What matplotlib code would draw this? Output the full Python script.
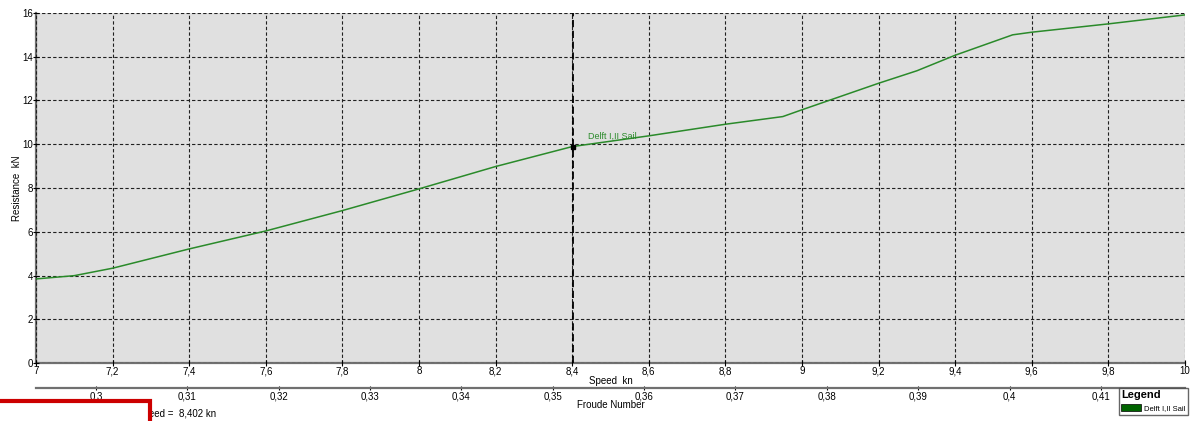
import numpy as np
import matplotlib.pyplot as plt
from matplotlib.patches import Patch, Rectangle
from matplotlib.ticker import FuncFormatter, MultipleLocator, FixedLocator

plt.rcParams['font.family'] = ['Liberation Sans', 'DejaVu Sans']

# data
speed_kn = [7.0, 7.1, 7.2, 7.4, 7.6, 7.8, 8.0, 8.2, 8.4, 8.6, 8.8, 8.95,
            9.0, 9.2, 9.3, 9.4, 9.55, 9.6, 9.8, 10.0]
resistance_kN = [3.85, 4.0, 4.34, 5.22, 6.04, 6.97, 7.96, 8.98, 9.89, 10.38,
                 10.91, 11.26, 11.57, 12.78, 13.35, 14.06, 14.99, 15.11,
                 15.49, 15.90]
series_name = "Delft I,II Sail"
sel_speed = 8.402
sel_resist = 9.87
froude_per_kn = 0.04192
froude_ticks = [0.30, 0.31, 0.32, 0.33, 0.34, 0.35, 0.36, 0.37, 0.38, 0.39, 0.40, 0.41]

def comma(v, pos=None):
    return ('%g' % round(v, 4)).replace('.', ',')

fig = plt.figure(figsize=(11.97, 4.21), dpi=100)
ax = fig.add_axes([36/1197, 1-363.3/421, (1185-36)/1197, (363.3-12.7)/421])
ax.set_facecolor('#e0e0e0')

green = '#2a8a2a'
ax.plot(speed_kn, resistance_kN, color=green, lw=1.1, zorder=3)
ax.axvline(sel_speed, color='black', lw=1.3, ls=(0, (4, 2)), zorder=4)
ax.plot([sel_speed], [sel_resist], 's', color='black', ms=3.5, zorder=5)
ax.annotate(series_name, (sel_speed, sel_resist), xytext=(11, 6),
            textcoords='offset points', fontsize=6.5, color=green)

ax.set_xlim(7, 10)
ax.set_ylim(0, 16)
ax.xaxis.set_major_locator(MultipleLocator(0.2))
ax.yaxis.set_major_locator(MultipleLocator(2))
ax.xaxis.set_major_formatter(FuncFormatter(comma))
ax.yaxis.set_major_formatter(FuncFormatter(comma))
ax.grid(True, color='#202020', lw=0.8, ls=(0, (3, 2)))
ax.set_axisbelow(False)
ax.tick_params(labelsize=7, length=4, width=0.8, direction='inout', pad=0)

for s in ['top', 'right']:
    ax.spines[s].set_visible(False)
for s in ['left', 'bottom']:
    ax.spines[s].set_color('#707070')
    ax.spines[s].set_linewidth(1.6)

ax.set_xlabel("Speed  kn", fontsize=7, labelpad=0)
ax.set_ylabel("Resistance  kN", fontsize=7, labelpad=0)

sec = ax.secondary_xaxis(-(387.7-363.3)/350.6,
                         functions=(lambda v: v*froude_per_kn, lambda f: f/froude_per_kn))
sec.xaxis.set_major_locator(FixedLocator(froude_ticks))
sec.xaxis.set_major_formatter(FuncFormatter(comma))
sec.tick_params(labelsize=7, length=3, width=0.8, direction='inout', pad=1)
sec.spines['bottom'].set_color('#707070')
sec.spines['bottom'].set_linewidth(1.6)
sec.set_xlabel("Froude Number", fontsize=7, labelpad=-1)

leg = fig.legend(handles=[Patch(facecolor='#006400', edgecolor='black', lw=0.5)],
                 labels=[series_name], title="Legend", loc='upper left',
                 bbox_to_anchor=(1115/1197, 1-384/421), fontsize=5.5,
                 title_fontsize=8, frameon=True, fancybox=False,
                 edgecolor='#404040', borderpad=0.35, handlelength=2.6,
                 handleheight=0.9, handletextpad=0.4, alignment='left')
leg.get_frame().set_linewidth(1.0)
leg.get_title().set_fontweight('bold')

fig.text(216/1197, 1-414/421, "Speed =  8,402 kn", fontsize=7, ha='right', va='center', zorder=3)
fig.patches.append(Rectangle((-0.02, -0.05), 0.02+150/1197, 0.05+(421-401)/421,
                             transform=fig.transFigure, facecolor='white',
                             edgecolor='#cc0000', lw=3, zorder=10))

fig.savefig('out.png', dpi=100)
